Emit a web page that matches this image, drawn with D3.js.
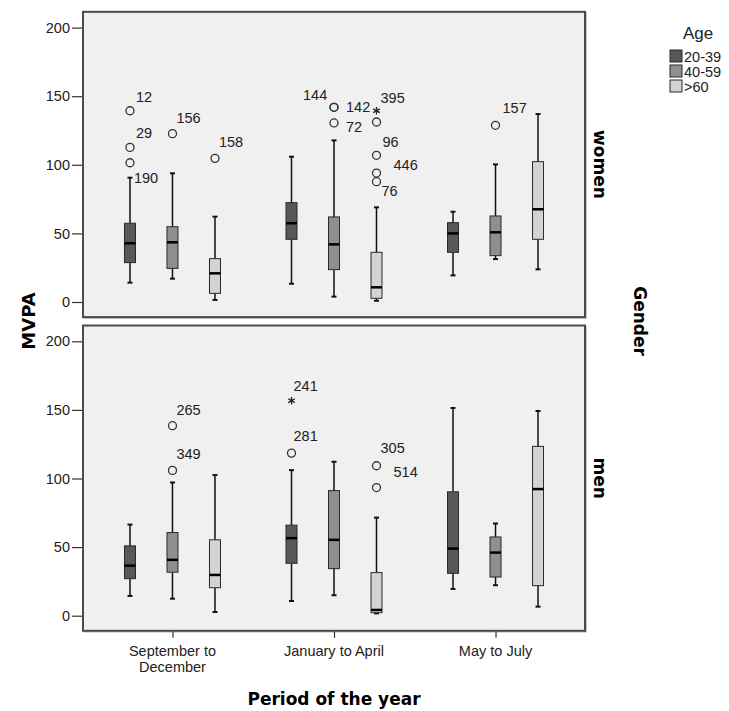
<!DOCTYPE html>
<html>
<head>
<meta charset="utf-8">
<script src="https://cdn.jsdelivr.net/npm/d3@7"></script>
<style>
  body { margin: 0; background: #fff; }
  svg { display: block; }
  .tick-label { font-family: "Liberation Sans", Arial, sans-serif; font-size: 14.5px; fill: #222; }
  .title { font-family: "DejaVu Sans", sans-serif; font-weight: bold; font-size: 17px; fill: #000; }
</style>
</head>
<body>
<svg width="729" height="711"></svg>
<script>
// ---- data ----
const periods = ["September to December", "January to April", "May to July"];
const periodLines = [["September to", "December"], ["January to April"], ["May to July"]];
const ages = ["20-39", "40-59", ">60"];
const ageColours = ["#585858", "#8f8f8f", "#d3d3d3"];
const genders = ["women", "men"];
const yTicks = [0, 50, 100, 150, 200];

// [low whisker, q1, median, q3, high whisker] per period, per age group
const womenStats = [
    [[14.1, 28.7, 42.8, 57.4, 90.6], [17, 24.5, 43.5, 54.9, 93.8], [1.5, 6.3, 20.9, 31.6, 62.2]],
    [[13.3, 45.7, 57.4, 72.4, 105.9], [3.9, 23.6, 42, 62, 117.8], [0.9, 2.7, 10.7, 36.2, 69]],
    [[19.4, 36.2, 50, 57.8, 65.8], [31.3, 33.8, 50.8, 62.7, 100.3], [23.8, 45.7, 67.6, 102.3, 137]]
];
const menStats = [
    [[14.4, 27, 36.5, 50.9, 66.4], [12.4, 31.7, 40.7, 60.6, 97.1], [2.7, 20.4, 29.7, 55.3, 102.5]],
    [[10.7, 38.2, 56.5, 66, 106.1], [14.9, 34.3, 55.3, 91.2, 112.2], [1.7, 2.2, 4.2, 31.4, 71.5]],
    [[19.5, 30.9, 48.9, 90.3, 151.4], [22.2, 28.2, 46, 57.4, 67.2], [6.6, 21.9, 92.3, 123.4, 149.2]]
];

// outliers: [period, age, value, case label, kind]  (o = outlier, * = extreme)
const womenOutliers = [
    [0, 0, 139.4, "12", "o"], [0, 0, 112.7, "29", "o"], [0, 0, 101.5, "190", "o"],
    [0, 1, 122.7, "156", "o"],
    [0, 2, 104.7, "158", "o"],
    [1, 1, 141.9, "144", "o"], [1, 1, 141.9, "142", "o"], [1, 1, 130.5, "72", "o"],
    [1, 2, 139.4, "395", "*"], [1, 2, 131.2, "", "o"], [1, 2, 106.9, "96", "o"],
    [1, 2, 94, "446", "o"], [1, 2, 87.7, "76", "o"],
    [2, 1, 128.8, "157", "o"]
];
const menOutliers = [
    [0, 1, 138.5, "265", "o"], [0, 1, 105.9, "349", "o"],
    [1, 0, 156.7, "241", "*"], [1, 0, 118.5, "281", "o"],
    [1, 2, 109.3, "305", "o"], [1, 2, 93.4, "514", "o"]
];

// where the case labels sit relative to their point (text start, text middle)
const labelNudge = {
    "12": [6, -14], "29": [6, -14], "190": [4, 15], "144": [-31, -12], "142": [12, 0],
    "72": [12, 4], "395": [4, -13], "96": [6, -13], "446": [17, -8], "76": [5, 9],
    "157": [7, -17], "241": [2, -15], "281": [2, -17], "305": [4, -18], "514": [17, -16]
};
const defaultNudge = [4, -16];

// ---- layout ----
const svg = d3.select("svg");
const plotLeft = 83, plotRight = 585;
const panels = [
    { name: "women", stats: womenStats, outliers: womenOutliers, zeroY: 302 },
    { name: "men", stats: menStats, outliers: menOutliers, zeroY: 615.7 }
];
const pxPer200 = 274.4;
const domainLo = -11, domainHi = 211.5;

const x = d3.scalePoint().domain(periods).range([plotLeft, plotRight]).padding(0.554);
const xAge = d3.scalePoint().domain(ages).range([-42.5, 42.5]);
const colour = d3.scaleOrdinal().domain(ages).range(ageColours);
const boxW = 11, capW = 5;

panels.forEach((p) => {
    const y = d3.scaleLinear().domain([0, 200]).range([p.zeroY, p.zeroY - pxPer200]);
    const g = svg.append("g");

    // panel background + frame
    g.append("rect")
        .attr("x", plotLeft + 1).attr("y", y(domainHi) + 1)
        .attr("width", plotRight - plotLeft).attr("height", y(domainLo) - y(domainHi))
        .attr("fill", "none").attr("stroke", "#bbb").attr("stroke-width", 1.5);
    g.append("rect")
        .attr("x", plotLeft).attr("y", y(domainHi))
        .attr("width", plotRight - plotLeft).attr("height", y(domainLo) - y(domainHi))
        .attr("fill", "#f0f0f0").attr("stroke", "#4a4a4a").attr("stroke-width", 2);

    // y axis
    const yAxis = g.append("g")
        .attr("transform", `translate(${plotLeft - 1},0)`)
        .call(d3.axisLeft(y).tickValues(yTicks).tickSize(10).tickPadding(2));
    yAxis.select(".domain").remove();
    yAxis.selectAll(".tick line").attr("stroke", "#333").attr("stroke-width", 1.2);
    yAxis.selectAll(".tick text").attr("class", "tick-label").attr("font-size", null).attr("font-family", null);

    // boxes
    periods.forEach((per, pi) => {
        ages.forEach((age, ai) => {
            const [lo, q1, med, q3, hi] = p.stats[pi][ai];
            const cx = x(per) + xAge(age);
            const b = g.append("g");
            b.append("line").attr("x1", cx).attr("x2", cx).attr("y1", y(hi)).attr("y2", y(q3))
                .attr("stroke", "#111").attr("stroke-width", 1.5);
            b.append("line").attr("x1", cx).attr("x2", cx).attr("y1", y(q1)).attr("y2", y(lo))
                .attr("stroke", "#111").attr("stroke-width", 1.5);
            b.append("line").attr("x1", cx - capW / 2).attr("x2", cx + capW / 2).attr("y1", y(hi)).attr("y2", y(hi))
                .attr("stroke", "#111").attr("stroke-width", 2);
            b.append("line").attr("x1", cx - capW / 2).attr("x2", cx + capW / 2).attr("y1", y(lo)).attr("y2", y(lo))
                .attr("stroke", "#111").attr("stroke-width", 2);
            b.append("rect").attr("x", cx - boxW / 2).attr("y", y(q3))
                .attr("width", boxW).attr("height", y(q1) - y(q3))
                .attr("fill", colour(age)).attr("stroke", "#2a2a2a").attr("stroke-width", 1);
            b.append("line").attr("x1", cx - boxW / 2).attr("x2", cx + boxW / 2).attr("y1", y(med)).attr("y2", y(med))
                .attr("stroke", "#000").attr("stroke-width", 2.5);
        });
    });

    // outliers and their case labels
    p.outliers.forEach(([pi, ai, v, lab, kind]) => {
        const cx = x(periods[pi]) + xAge(ages[ai]);
        const cy = y(v);
        if (kind === "*") {
            g.append("path")
                .attr("d", d3.symbol(d3.symbolAsterisk, 40)())
                .attr("transform", `translate(${cx},${cy})`)
                .attr("stroke", "#222").attr("stroke-width", 1.3).attr("fill", "none");
        } else {
            g.append("circle").attr("cx", cx).attr("cy", cy).attr("r", 4)
                .attr("fill", "none").attr("stroke", "#333").attr("stroke-width", 1.3);
        }
        if (lab) {
            const [dx, dy] = labelNudge[lab] || defaultNudge;
            g.append("text").attr("class", "tick-label")
                .attr("x", cx + dx).attr("y", cy + dy)
                .attr("dominant-baseline", "central")
                .text(lab);
        }
    });

    // facet strip label
    const midY = (y(domainLo) + y(domainHi)) / 2;
    g.append("text").attr("class", "title")
        .attr("transform", `translate(${600},${midY}) rotate(90)`)
        .attr("text-anchor", "middle").attr("dominant-baseline", "central")
        .text(p.name);

    if (p.name === "men") {
        const xAxis = g.append("g")
            .attr("transform", `translate(0,${y(domainLo) + 1})`)
            .call(d3.axisBottom(x).tickSize(6).tickFormat(""));
        xAxis.select(".domain").remove();
        xAxis.selectAll(".tick line").attr("stroke", "#333").attr("stroke-width", 1.2);
        periods.forEach((per, i) => {
            const t = g.append("text").attr("class", "tick-label")
                .attr("text-anchor", "middle")
                .attr("x", x(per)).attr("y", 656);
            periodLines[i].forEach((line, k) => {
                t.append("tspan").attr("x", x(per)).attr("dy", k === 0 ? 0 : 16).text(line);
            });
        });
    }
});

// axis titles
svg.append("text").attr("class", "title")
    .attr("transform", "translate(28,321) rotate(-90)")
    .attr("text-anchor", "middle").attr("dominant-baseline", "central")
    .style("font-size", "18px")
    .text("MVPA");
svg.append("text").attr("class", "title")
    .attr("x", 334).attr("y", 705).attr("text-anchor", "middle")
    .text("Period of the year");
svg.append("text").attr("class", "title")
    .attr("transform", "translate(640,321) rotate(90)")
    .attr("text-anchor", "middle").attr("dominant-baseline", "central")
    .text("Gender");

// legend
const legend = svg.append("g").attr("transform", "translate(670,0)");
legend.append("text")
    .attr("x", 13).attr("y", 39)
    .style("font-family", "Liberation Sans, Arial, sans-serif").style("font-size", "17px").attr("fill", "#222")
    .text("Age");
const item = legend.selectAll("g.item").data(ages).enter().append("g")
    .attr("class", "item")
    .attr("transform", (d, i) => `translate(0,${50 + i * 15})`);
item.append("rect").attr("width", 12).attr("height", 12)
    .attr("fill", (d) => colour(d)).attr("stroke", "#2a2a2a").attr("stroke-width", 1);
item.append("text").attr("class", "tick-label")
    .attr("x", 14).attr("y", 6.5).attr("dominant-baseline", "central")
    .text((d) => d);
</script>
</body>
</html>
